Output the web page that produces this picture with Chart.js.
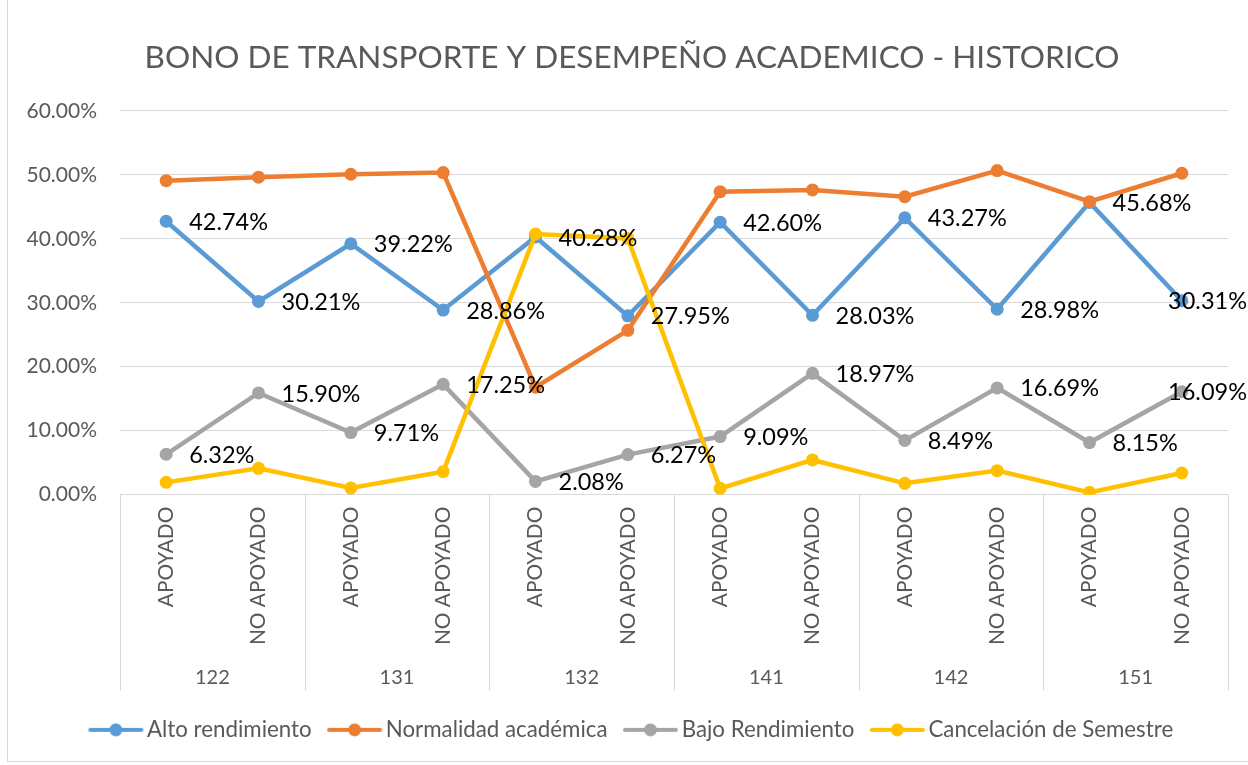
<!DOCTYPE html>
<html>
<head>
<meta charset="utf-8">
<script src="https://cdn.jsdelivr.net/npm/chart.js@4/dist/chart.umd.min.js"></script>
<style>
  body { margin: 0; background: #fff; }
  #wrap { position: relative; width: 1248px; height: 765px; }
  #frame { position: absolute; left: 7px; top: -2px; width: 1300px; height: 764px; border: 1px solid #d9d9d9; box-sizing: border-box; }
  canvas { position: absolute; left: 0; top: 0; }
</style>
</head>
<body>
<div id="wrap">
  <div id="frame"></div>
  <canvas id="myChart" width="1248" height="765"></canvas>
</div>
<script>
// chart values (percent)
var xLabels = ['APOYADO', 'NO APOYADO', 'APOYADO', 'NO APOYADO', 'APOYADO', 'NO APOYADO',
               'APOYADO', 'NO APOYADO', 'APOYADO', 'NO APOYADO', 'APOYADO', 'NO APOYADO'];
var semesters = ['122', '131', '132', '141', '142', '151'];
var yTicks = [0, 10, 20, 30, 40, 50, 60];

var altoRendimiento = [42.74, 30.21, 39.22, 28.86, 40.28, 27.95, 42.60, 28.03, 43.27, 28.98, 45.68, 30.31];
var normalidad = [49.08, 49.62, 50.08, 50.34, 16.81, 25.69, 47.36, 47.63, 46.58, 50.66, 45.80, 50.24];
var bajoRendimiento = [6.32, 15.90, 9.71, 17.25, 2.08, 6.27, 9.09, 18.97, 8.49, 16.69, 8.15, 16.09];
var cancelacion = [1.93, 4.12, 1.04, 3.60, 40.73, 40.05, 0.99, 5.43, 1.78, 3.76, 0.37, 3.39];

var FONT = 'Lato';
var GRAY = '#595959';
var GRID = '#d9d9d9';

// legend marker: short line with a dot, like excel (shifted right inside the image)
function legendMarker(color) {
    var c = document.createElement('canvas');
    c.width = 62; c.height = 16;
    var g = c.getContext('2d');
    g.strokeStyle = color;
    g.lineWidth = 4;
    g.lineCap = 'round';
    g.beginPath(); g.moveTo(8, 8); g.lineTo(59, 8); g.stroke();
    g.fillStyle = color;
    g.beginPath(); g.arc(33.5, 8, 6.5, 0, Math.PI * 2); g.fill();
    return c;
}

function series(label, data, color, order, showLabels) {
    return {
        label: label,
        data: data,
        borderColor: color,
        backgroundColor: color,
        borderWidth: 4.5,
        pointRadius: 6.5,
        pointHoverRadius: 6.5,
        pointBorderWidth: 0,
        pointStyle: 'circle',
        tension: 0,
        order: order,
        showLabels: showLabels,
        marker: legendMarker(color)
    };
}

// value labels to the right of the points
var valueLabels = {
    id: 'valueLabels',
    afterDatasetsDraw: function(chart) {
        var ctx = chart.ctx;
        ctx.save();
        ctx.font = '23.5px ' + FONT;
        ctx.fillStyle = '#000';
        ctx.textBaseline = 'middle';
        ctx.textAlign = 'left';
        chart.data.datasets.forEach(function(ds, i) {
            if (!ds.showLabels) return;
            chart.getDatasetMeta(i).data.forEach(function(pt, j) {
                var txt = ds.data[j].toFixed(2) + '%';
                var w = ctx.measureText(txt).width;
                var x = pt.x + 23;
                if (x + w > chart.width - 1) x = chart.width - 1 - w;
                ctx.fillText(txt, x, pt.y + 1);
            });
        });
        ctx.restore();
    }
};

// group separators between semesters; also let the y labels run into the left padding
var groupLines = {
    id: 'groupLines',
    afterLayout: function(chart) {
        chart.scales.y.left = 0;
    },
    afterDraw: function(chart) {
        var xs = chart.scales.x, xg = chart.scales.x2;
        var ctx = chart.ctx;
        ctx.save();
        ctx.strokeStyle = GRID;
        ctx.lineWidth = 1;
        var step = xs.width / semesters.length;
        for (var i = 0; i <= semesters.length; i++) {
            var px = Math.round(xs.left + i * step) + 0.5;
            ctx.beginPath();
            ctx.moveTo(px, xs.top);
            ctx.lineTo(px, xg.top + 36);
            ctx.stroke();
        }
        ctx.restore();
    }
};

var ctx = document.getElementById('myChart').getContext('2d');
var myChart = new Chart(ctx, {
    type: 'line',
    data: {
        labels: xLabels,
        datasets: [
            series('Alto rendimiento', altoRendimiento, '#5B9BD5', 4, true),
            series('Normalidad académica', normalidad, '#ED7D31', 3, false),
            series('Bajo Rendimiento', bajoRendimiento, '#A5A5A5', 2, true),
            series('Cancelación de Semestre', cancelacion, '#FFC000', 1, false)
        ]
    },
    options: {
        responsive: false,
        animation: false,
        layout: { padding: { left: 36, right: 20, top: 0, bottom: 14 } },
        plugins: {
            title: {
                display: true,
                text: 'BONO DE TRANSPORTE Y DESEMPEÑO ACADEMICO - HISTORICO',
                color: GRAY,
                font: { family: FONT, size: 31.5, weight: 'normal', lineHeight: 1.2 },
                padding: { top: 39, bottom: 34 }
            },
            legend: {
                position: 'bottom',
                labels: {
                    color: GRAY,
                    font: { family: FONT, size: 22.3 },
                    usePointStyle: true,
                    pointStyleWidth: 45,
                    padding: 18,
                    generateLabels: function(chart) {
                        return chart.data.datasets.map(function(ds, i) {
                            return {
                                text: ds.label,
                                pointStyle: ds.marker,
                                fillStyle: ds.borderColor,
                                strokeStyle: ds.borderColor,
                                fontColor: GRAY,
                                lineWidth: 0,
                                datasetIndex: i
                            };
                        });
                    },
                    sort: function(a, b) { return a.datasetIndex - b.datasetIndex; }
                }
            },
            tooltip: { enabled: false }
        },
        scales: {
            y: {
                min: 0,
                max: 60,
                afterBuildTicks: function(scale) {
                    scale.ticks = yTicks.map(function(v) { return { value: v }; });
                },
                afterFit: function(scale) { scale.width = 84; },
                border: { display: false },
                grid: { color: GRID, lineWidth: 1, drawTicks: false },
                ticks: {
                    color: GRAY,
                    font: { family: FONT, size: 21 },
                    padding: 23,
                    callback: function(v) { return v.toFixed(2) + '%'; }
                }
            },
            x: {
                offset: true,
                border: { display: false },
                grid: { display: false },
                afterFit: function(scale) { scale.height = 160; },
                ticks: {
                    color: GRAY,
                    font: { family: FONT, size: 20.8 },
                    minRotation: 90,
                    maxRotation: 90,
                    padding: 4,
                    autoSkip: false
                }
            },
            x2: {
                type: 'category',
                position: 'bottom',
                labels: semesters,
                offset: true,
                border: { display: false },
                grid: { display: false },
                afterFit: function(scale) { scale.height = 46; },
                ticks: {
                    color: GRAY,
                    font: { family: FONT, size: 20 },
                    padding: 3,
                    maxRotation: 0,
                    autoSkip: false
                }
            }
        }
    },
    plugins: [valueLabels, groupLines]
});
</script>
</body>
</html>
